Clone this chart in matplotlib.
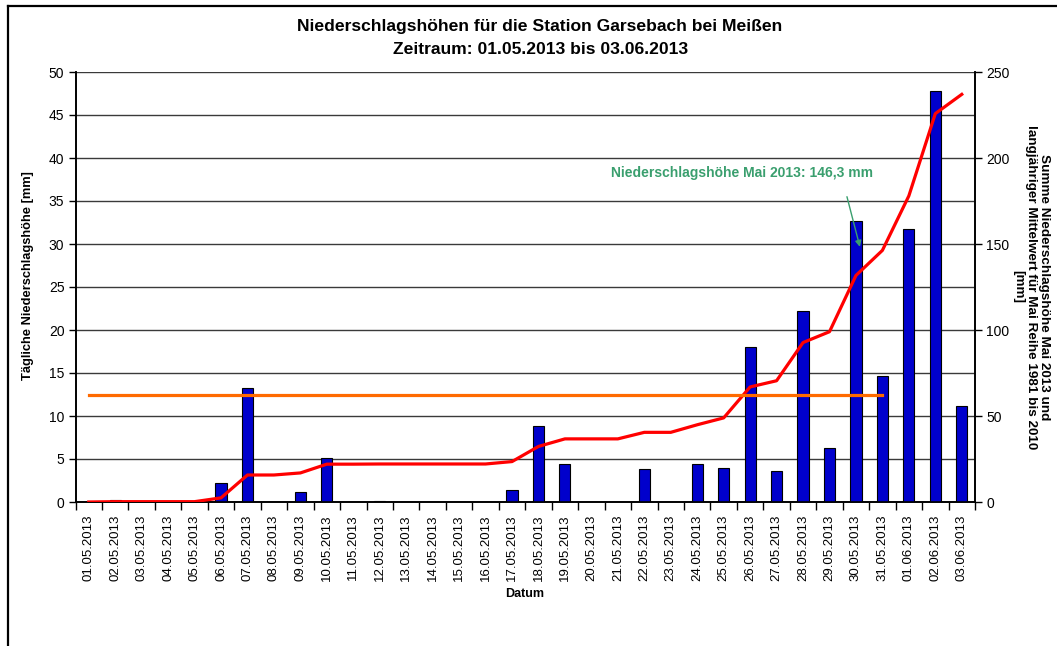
import numpy as np
import matplotlib
matplotlib.use('Agg')
import matplotlib.pyplot as plt
from matplotlib.lines import Line2D

plt.rcParams['font.family'] = ['Liberation Sans', 'DejaVu Sans']

# daily precipitation Garsebach, 01.05.2013 - 03.06.2013
dates = ['01.05.2013', '02.05.2013', '03.05.2013', '04.05.2013', '05.05.2013',
         '06.05.2013', '07.05.2013', '08.05.2013', '09.05.2013', '10.05.2013',
         '11.05.2013', '12.05.2013', '13.05.2013', '14.05.2013', '15.05.2013',
         '16.05.2013', '17.05.2013', '18.05.2013', '19.05.2013', '20.05.2013',
         '21.05.2013', '22.05.2013', '23.05.2013', '24.05.2013', '25.05.2013',
         '26.05.2013', '27.05.2013', '28.05.2013', '29.05.2013', '30.05.2013',
         '31.05.2013', '01.06.2013', '02.06.2013', '03.06.2013']
daily = [0.0, 0.2, 0.0, 0.0, 0.0, 2.2, 13.3, 0.0, 1.2, 5.1,
         0.0, 0.1, 0.0, 0.0, 0.0, 0.0, 1.4, 8.8, 4.4, 0.0,
         0.0, 3.8, 0.0, 4.4, 4.0, 18.0, 3.6, 22.2, 6.3, 32.7,
         14.6, 31.7, 47.8, 11.2]
# running total (right axis)
cumulative = np.cumsum(daily)
# long-term May mean 1981-2010, drawn over the days of May
may_mean = 62.0
n_may = 31

x = np.arange(len(dates))

fig = plt.figure(figsize=(10.57, 6.46), dpi=100)
ax = fig.add_axes([75.5/1057, 1-502/646, (975-75.5)/1057, (502-72)/646])
ax2 = ax.twinx()

ax.bar(x, daily, width=0.42, color='#0000CC', edgecolor='black', linewidth=0.8, zorder=3)
ax.set_xlim(-0.5, len(dates)-0.5)
ax.set_ylim(0, 50)
ax.set_yticks(np.arange(0, 51, 5))
ax.yaxis.grid(True, color='#3a3a3a', linewidth=1.0)
ax.set_axisbelow(True)

# labels at category centres, tick marks between categories
ax.set_xticks(x)
ax.set_xticklabels(dates, rotation=90, fontsize=9.5)
ax.tick_params(axis='x', which='major', length=0, pad=9)
ax.set_xticks(np.arange(-0.5, len(dates), 1), minor=True)
ax.tick_params(axis='x', which='minor', length=6, width=1, direction='out')
ax.tick_params(axis='y', length=5, width=1, labelsize=10, pad=3)

ax2.plot(x, cumulative, color='#FF0000', linewidth=2.3, zorder=4)
ax2.plot(x[:n_may], [may_mean]*n_may, color='#FF6A00', linewidth=2.3, zorder=4)
ax2.set_ylim(0, 250)
ax2.set_yticks(np.arange(0, 251, 50))
ax2.tick_params(axis='y', length=5, width=1, labelsize=10, pad=3)

for a in (ax, ax2):
    a.spines['top'].set_visible(False)
    for s in ('left', 'right', 'bottom'):
        a.spines[s].set_linewidth(1.2)

green = '#3A9F6E'
ax2.text(24.7, 191, 'Niederschlagshöhe Mai 2013: 146,3 mm', color=green,
         fontsize=10, fontweight='bold', ha='center', va='center')
ax2.annotate('', xy=(29.15, 148.3), xytext=(28.66, 177.5),
             arrowprops=dict(arrowstyle='-|>', color=green, lw=1.0,
                             mutation_scale=9, shrinkA=0, shrinkB=0))

fig.text(540/1057, 1-27/646, 'Niederschlagshöhen für die Station Garsebach bei Meißen',
         ha='center', va='center', fontsize=12.6, fontweight='bold')
fig.text(541/1057, 1-49/646, 'Zeitraum: 01.05.2013 bis 03.06.2013',
         ha='center', va='center', fontsize=12.6, fontweight='bold')
fig.text(525/1057, 1-594/646, 'Datum', ha='center', va='center',
         fontsize=9, fontweight='bold')
fig.text(28/1057, 1-276/646, 'Tägliche Niederschlagshöhe [mm]', rotation=90,
         ha='center', va='center', fontsize=9.3, fontweight='bold')
fig.text(1031/1057, 1-287/646,
         'Summe Niederschlagshöhe Mai 2013 und\nlangjähriger Mittelwert für Mai Reihe 1981 bis 2010\n[mm]',
         rotation=270, ha='center', va='center', multialignment='center',
         fontsize=9.7, fontweight='bold', linespacing=1.1)

# outer chart frame
fig.add_artist(Line2D([7.5/1057, 7.5/1057], [0, 1-6/646], color='black', linewidth=1.6,
                      transform=fig.transFigure))
fig.add_artist(Line2D([7.5/1057, 1], [1-6/646, 1-6/646], color='black', linewidth=1.6,
                      transform=fig.transFigure))

fig.savefig('out.png', dpi=100)
